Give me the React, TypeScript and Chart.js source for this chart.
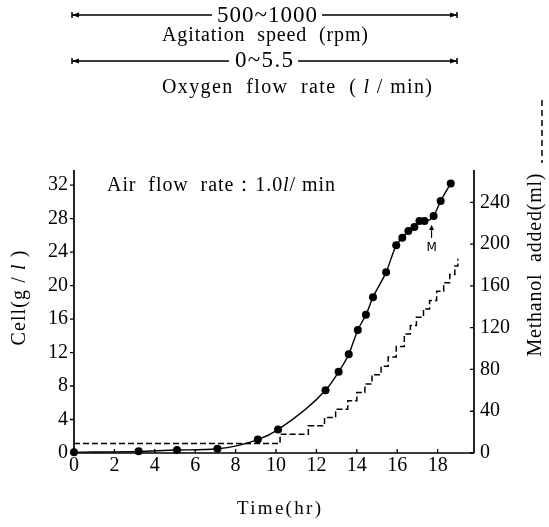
import React, { useEffect, useRef } from "react";
import { Chart, registerables } from "chart.js";
Chart.register(...registerables);

// ---- data ----
const timeCell = [0, 3.2, 5.1, 7.1, 9.1, 10.1, 12.45, 13.1, 13.6, 14.05, 14.45, 14.8, 15.45, 15.95, 16.25, 16.55, 16.85, 17.1, 17.35, 17.8, 18.15, 18.65];
const cellValues = [0.1, 0.2, 0.35, 0.5, 1.6, 2.8, 7.5, 9.7, 11.8, 14.7, 16.5, 18.6, 21.6, 24.8, 25.7, 26.5, 27.0, 27.7, 27.7, 28.3, 30.1, 32.2];
const timeMethanol = [0, 10.2, 11.6, 12.4, 12.95, 13.55, 14.0, 14.4, 14.75, 15.2, 15.55, 15.95, 16.35, 16.65, 16.95, 17.3, 17.6, 17.95, 18.3, 18.6, 18.85, 19.0];
const methanolValues = [9, 18, 26, 34, 42, 50, 58, 66, 75, 83, 92, 102, 114, 122, 130, 138, 146, 155, 163, 171, 179, 186];
const xTicks = [0, 2, 4, 6, 8, 10, 12, 14, 16, 18];
const cellTicks = [0, 4, 8, 12, 16, 20, 24, 28, 32];
const methanolTicks = [0, 40, 80, 120, 160, 200, 240];
const markTime = 17.7;
const markCell = 27.7;

const SERIF = '"Liberation Serif", "Times New Roman", serif';

type Part = { t: string; it?: boolean };

function drawRich(
  ctx: CanvasRenderingContext2D,
  parts: Part[],
  x: number,
  y: number,
  size: number,
  target: number | null,
  rot = 0,
  baseline: CanvasTextBaseline = "alphabetic"
) {
  ctx.save();
  ctx.translate(x, y);
  ctx.rotate(rot);
  ctx.textBaseline = baseline;
  ctx.textAlign = "left";
  ctx.fillStyle = "#000";
  const fontOf = (p: Part) => `${p.it ? "italic " : ""}${size}px ${SERIF}`;
  (ctx as any).letterSpacing = "0px";
  const widths = parts.map((p) => {
    ctx.font = fontOf(p);
    return ctx.measureText(p.t).width;
  });
  const natural = widths.reduce((a, b) => a + b, 0);
  const n = parts.reduce((a, p) => a + p.t.length, 0);
  const ls = target && n > 1 ? (target - natural) / (n - 1) : 0;
  const total = natural + ls * (n - 1);
  let cx = -total / 2;
  parts.forEach((p, i) => {
    ctx.font = fontOf(p);
    (ctx as any).letterSpacing = ls + "px";
    ctx.fillText(p.t, cx, 0);
    cx += widths[i] + ls * p.t.length;
  });
  (ctx as any).letterSpacing = "0px";
  ctx.restore();
}

function arrowLine(ctx: CanvasRenderingContext2D, x1: number, x2: number, y: number, gapL: number, gapR: number) {
  ctx.save();
  ctx.strokeStyle = "#000";
  ctx.fillStyle = "#000";
  ctx.lineWidth = 1.5;
  ctx.beginPath();
  ctx.moveTo(x1, y);
  ctx.lineTo(gapL, y);
  ctx.moveTo(gapR, y);
  ctx.lineTo(x2, y);
  ctx.stroke();
  ctx.beginPath();
  ctx.moveTo(x1, y);
  ctx.lineTo(x1 + 7, y - 2.5);
  ctx.lineTo(x1 + 7, y + 2.5);
  ctx.closePath();
  ctx.fill();
  ctx.beginPath();
  ctx.moveTo(x2, y);
  ctx.lineTo(x2 - 7, y - 2.5);
  ctx.lineTo(x2 - 7, y + 2.5);
  ctx.closePath();
  ctx.fill();
  ctx.beginPath();
  ctx.moveTo(x1, y - 3);
  ctx.lineTo(x1, y + 3);
  ctx.moveTo(x2, y - 3);
  ctx.lineTo(x2, y + 3);
  ctx.stroke();
  ctx.restore();
}

const decorPlugin = {
  id: "decor",
  beforeDraw(chart: any) {
    const ctx = chart.ctx as CanvasRenderingContext2D;
    ctx.save();
    ctx.fillStyle = "#fff";
    ctx.fillRect(0, 0, chart.width, chart.height);
    ctx.restore();
  },
  afterDraw(chart: any) {
    const ctx = chart.ctx as CanvasRenderingContext2D;
    const a = chart.chartArea;
    const xs = chart.scales.x;
    const yl = chart.scales.y;
    const yr = chart.scales.y2;
    ctx.save();
    ctx.strokeStyle = "#000";
    ctx.lineWidth = 1.7;
    ctx.beginPath();
    ctx.moveTo(a.left, a.top);
    ctx.lineTo(a.left, a.bottom);
    ctx.lineTo(a.right, a.bottom);
    ctx.moveTo(a.right, a.top);
    ctx.lineTo(a.right, a.bottom);
    ctx.stroke();
    ctx.lineWidth = 1.3;
    ctx.beginPath();
    xTicks.forEach((v) => {
      const px = xs.getPixelForValue(v);
      ctx.moveTo(px, a.bottom);
      ctx.lineTo(px, a.bottom - 4);
    });
    cellTicks.forEach((v) => {
      const py = yl.getPixelForValue(v);
      ctx.moveTo(a.left, py);
      ctx.lineTo(a.left - 4, py);
    });
    methanolTicks.forEach((v) => {
      const py = yr.getPixelForValue(v);
      ctx.moveTo(a.right, py);
      ctx.lineTo(a.right - 4, py);
    });
    ctx.stroke();
    ctx.restore();

    // axis titles
    drawRich(ctx, [{ t: "Time(hr)" }], 279, 514, 19, 84);
    drawRich(ctx, [{ t: "Cell(g / " }, { t: "l", it: true }, { t: " )" }], 20, 298, 20, 95, -Math.PI / 2, "middle");
    drawRich(ctx, [{ t: "Methanol  added(ml)" }], 536, 265, 20, 183, -Math.PI / 2, "middle");

    // dashed legend mark
    ctx.save();
    ctx.strokeStyle = "#000";
    ctx.lineWidth = 1.5;
    ctx.setLineDash([6, 4]);
    ctx.beginPath();
    ctx.moveTo(542, 100);
    ctx.lineTo(542, 163);
    ctx.stroke();
    ctx.restore();

    // in-plot annotation
    drawRich(ctx, [{ t: "Air  flow  rate：1.0" }, { t: "l", it: true }, { t: "/ min" }], 221, 191, 20, 228);

    // M marker
    const mx = xs.getPixelForValue(markTime);
    const my = yl.getPixelForValue(markCell);
    ctx.save();
    ctx.strokeStyle = "#000";
    ctx.fillStyle = "#000";
    ctx.lineWidth = 1.1;
    ctx.beginPath();
    ctx.moveTo(mx, my + 5);
    ctx.lineTo(mx, my + 17);
    ctx.stroke();
    ctx.beginPath();
    ctx.moveTo(mx, my + 4);
    ctx.lineTo(mx - 2.5, my + 9);
    ctx.lineTo(mx + 2.5, my + 9);
    ctx.closePath();
    ctx.fill();
    ctx.font = '12px "DejaVu Sans", sans-serif';
    ctx.textAlign = "center";
    ctx.textBaseline = "alphabetic";
    ctx.fillText("M", mx, my + 30);
    ctx.restore();

    // top annotations
    arrowLine(ctx, 72, 457, 15, 212, 322);
    drawRich(ctx, [{ t: "500~1000" }], 267, 22, 23, 100);
    drawRich(ctx, [{ t: "Agitation  speed  (rpm)" }], 265, 41, 20, 206);
    arrowLine(ctx, 72, 457, 61, 229, 298);
    drawRich(ctx, [{ t: "0~5.5" }], 264, 67, 23, 58);
    drawRich(ctx, [{ t: "Oxygen  flow  rate  ( " }, { t: "l", it: true }, { t: " / min)" }], 297, 93, 20, 270);
  },
};

export default function App() {
  const ref = useRef<HTMLCanvasElement | null>(null);
  useEffect(() => {
    if (!ref.current) return;
    const tickFont = { family: SERIF, size: 20 };
    const chart = new Chart(ref.current, {
      type: "line",
      data: {
        datasets: [
          {
            label: "Cell",
            data: timeCell.map((t, i) => ({ x: t, y: cellValues[i] })),
            yAxisID: "y",
            borderColor: "#000",
            borderWidth: 1.4,
            pointRadius: 4,
            pointBackgroundColor: "#000",
            pointBorderColor: "#000",
            pointBorderWidth: 0,
            cubicInterpolationMode: "monotone",
            clip: false as any,
          },
          {
            label: "Methanol added",
            data: timeMethanol.map((t, i) => ({ x: t, y: methanolValues[i] })),
            yAxisID: "y2",
            borderColor: "#000",
            borderWidth: 1.5,
            borderDash: [6, 3],
            pointRadius: 0,
            stepped: "before",
          },
        ],
      },
      options: {
        animation: false,
        responsive: false,
        devicePixelRatio: 1,
        layout: { padding: { top: 170, left: 0, right: 0, bottom: 0 } },
        plugins: { legend: { display: false }, tooltip: { enabled: false } },
        scales: {
          x: {
            type: "linear",
            min: 0,
            max: 19.8,
            grid: { display: false, drawTicks: false },
            border: { display: false },
            ticks: { font: tickFont, color: "#000", padding: 1, includeBounds: false, maxRotation: 0 },
            afterBuildTicks: (s: any) => {
              s.ticks = xTicks.map((v) => ({ value: v }));
            },
            afterFit: (s: any) => {
              s.height = 74;
            },
          },
          y: {
            type: "linear",
            position: "left",
            min: 0,
            max: 33.8,
            grid: { display: false, drawTicks: false },
            border: { display: false },
            ticks: { font: tickFont, color: "#000", padding: 6, includeBounds: false },
            afterBuildTicks: (s: any) => {
              s.ticks = cellTicks.map((v) => ({ value: v }));
            },
            afterFit: (s: any) => {
              s.width = 74;
            },
          },
          y2: {
            type: "linear",
            position: "right",
            min: 0,
            max: 271,
            grid: { display: false, drawTicks: false },
            border: { display: false },
            ticks: { font: tickFont, color: "#000", padding: 6, includeBounds: false },
            afterBuildTicks: (s: any) => {
              s.ticks = methanolTicks.map((v) => ({ value: v }));
            },
            afterFit: (s: any) => {
              s.width = 75;
            },
          },
        },
      },
      plugins: [decorPlugin],
    } as any);
    return () => chart.destroy();
  }, []);
  return (
    <div style={{ position: "absolute", left: 0, top: 0, width: 549, height: 527, background: "#fff" }}>
      <canvas ref={ref} width={549} height={527} style={{ display: "block" }} />
    </div>
  );
}
